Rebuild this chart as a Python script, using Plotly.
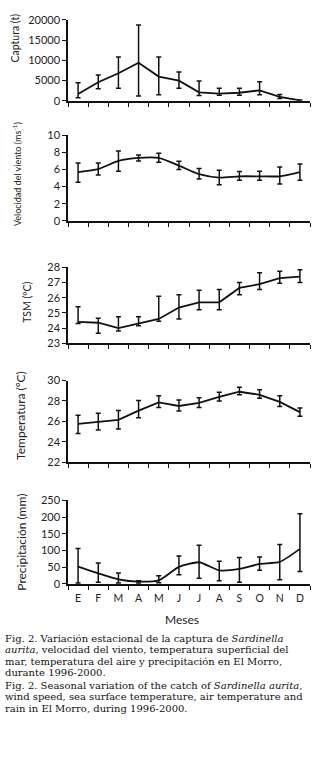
import plotly.graph_objects as go

months = ["E", "F", "M", "A", "M", "J", "J", "A", "S", "O", "N", "D"]

# Captura (t)
catch_mean = [1700, 4600, 6800, 9400, 6000, 5000, 2100, 1800, 2000, 2600, 1000, 100]
catch_hi = [4500, 6400, 10800, 18700, 10800, 7100, 4900, 3100, 3100, 4700, 1600, 200]
catch_lo = [800, 3000, 3100, 1200, 1500, 3100, 1300, 1400, 1400, 1500, 600, 50]

# Velocidad del viento (m s-1)
wind_mean = [5.7, 6.05, 7.0, 7.35, 7.35, 6.45, 5.45, 5.05, 5.2, 5.2, 5.2, 5.7]
wind_hi = [6.75, 6.75, 8.15, 7.7, 7.9, 6.95, 6.1, 5.9, 5.75, 5.8, 6.3, 6.65]
wind_lo = [4.5, 5.35, 5.8, 7.0, 6.85, 6.0, 4.9, 4.2, 4.75, 4.75, 4.3, 4.75]

# TSM (ºC)
sst_mean = [24.4, 24.35, 24.0, 24.3, 24.6, 25.35, 25.7, 25.7, 26.65, 26.9, 27.3, 27.4]
sst_hi = [25.4, 24.65, 24.75, 24.75, 26.1, 26.2, 26.5, 26.55, 27.0, 27.65, 27.75, 27.85]
sst_lo = [24.3, 23.65, 23.8, 24.15, 24.45, 24.6, 25.2, 25.2, 26.2, 26.55, 26.95, 27.0]

# Temperatura del aire (ºC)
air_mean = [25.75, 25.95, 26.15, 27.05, 27.85, 27.5, 27.8, 28.4, 28.9, 28.6, 27.9, 26.9]
air_hi = [26.6, 26.8, 27.05, 28.05, 28.5, 28.1, 28.3, 28.85, 29.35, 29.1, 28.5, 27.3]
air_lo = [24.8, 25.15, 25.25, 26.35, 27.35, 27.0, 27.35, 28.0, 28.6, 28.25, 27.45, 26.5]

# Precipitación (mm)
rain_mean = [52, 32, 14, 7, 11, 51, 65, 41, 45, 60, 66, 105]
rain_hi = [106, 63, 33, 10, 25, 84, 116, 68, 79, 81, 118, 210]
rain_lo = [3, 5, 3, 3, 4, 28, 17, 10, 5, 41, 13, 37]

H = 762.0
W = 325.0
x_dom = [68 / W, 310 / W]

panels = [
    dict(mean=catch_mean, hi=catch_hi, lo=catch_lo, rng=[0, 20000], dt=5000, top=13, bot=95.5, shape="linear"),
    dict(mean=wind_mean, hi=wind_hi, lo=wind_lo, rng=[0, 10], dt=2, top=130.5, bot=217.5, shape="spline"),
    dict(mean=sst_mean, hi=sst_hi, lo=sst_lo, rng=[23, 28], dt=1, top=265, bot=342, shape="linear"),
    dict(mean=air_mean, hi=air_hi, lo=air_lo, rng=[22, 30], dt=2, top=380, bot=463, shape="linear"),
    dict(mean=rain_mean, hi=rain_hi, lo=rain_lo, rng=[0, 250], dt=50, top=502, bot=587, shape="spline"),
]

fig = go.Figure()
xs = list(range(len(months)))
font_family = "Lato"

for i, p in enumerate(panels):
    n = i + 1
    xa = "x" if n == 1 else f"x{n}"
    ya = "y" if n == 1 else f"y{n}"
    up = [h - m for h, m in zip(p["hi"], p["mean"])]
    dn = [m - l for m, l in zip(p["mean"], p["lo"])]
    fig.add_trace(go.Scatter(
        x=xs, y=p["mean"], mode="lines", xaxis=xa, yaxis=ya,
        line=dict(color="#111", width=1.8, shape=p["shape"], smoothing=0.6),
        error_y=dict(type="data", symmetric=False, array=up, arrayminus=dn,
                     color="#111", thickness=1.5, width=2.5),
        showlegend=False, hoverinfo="skip",
    ))
    last = (n == 5)
    xkey = "xaxis" if n == 1 else f"xaxis{n}"
    ykey = "yaxis" if n == 1 else f"yaxis{n}"
    xdict = dict(
        domain=x_dom, range=[-0.5, 11.5], anchor=ya,
        showline=True, linecolor="#111", linewidth=1.5,
        showgrid=False, zeroline=False,
        minor=dict(tickmode="array", tickvals=[k + 0.5 for k in range(-1, 12)],
                   ticks="outside", ticklen=4, tickwidth=1.2, tickcolor="#111", showgrid=False),
    )
    if last:
        xdict.update(tickmode="array", tickvals=xs, ticktext=months,
                     showticklabels=True, ticks="outside", ticklen=4,
                     tickcolor="rgba(0,0,0,0)",
                     tickfont=dict(family=font_family, size=10.5, color="#222"))
    else:
        xdict.update(tickmode="array", tickvals=xs, showticklabels=False, ticks="")
    fig.update_layout(**{
        xkey: xdict,
        ykey: dict(
            domain=[1 - p["bot"] / H, 1 - p["top"] / H], range=p["rng"], anchor=xa,
            showline=True, linecolor="#111", linewidth=1.5,
            showgrid=False, zeroline=False,
            tickmode="linear", tick0=p["rng"][0], dtick=p["dt"], tickformat="d",
            ticks="outside", ticklen=4, tickwidth=1.2, tickcolor="#111",
            tickfont=dict(family=font_family, size=11, color="#222"),
        ),
    })

ann = []
ytitles = [
    ("Captura (t)", 15, 32, 10.5),
    ("Velocidad del viento (ms<sup>-1</sup>)", 17, 170, 9),
    ("TSM (ºC)", 27, 301, 10.5),
    ("Temperatura (ºC)", 21, 416, 12),
    ("Precipitación (mm)", 22, 545, 12),
]
for txt, xp, yp, sz in ytitles:
    ann.append(dict(text=txt, x=xp / W, y=1 - yp / H, xref="paper", yref="paper",
                    textangle=-90, showarrow=False, xanchor="center", yanchor="middle",
                    font=dict(family=font_family, size=sz, color="#222")))

ann.append(dict(text="Meses", x=182 / W, y=1 - 623 / H, xref="paper", yref="paper",
                showarrow=False, xanchor="center", yanchor="middle",
                font=dict(family=font_family, size=12, color="#222")))

caption = [
    ("Fig. 2. Variación estacional de la captura de <i>Sardinella</i>", 642),
    ("<i>aurita</i>, velocidad del viento, temperatura superficial del", 653.8),
    ("mar, temperatura del aire y precipitación en El Morro,", 665.6),
    ("durante 1996-2000.", 677.4),
    ("Fig. 2. Seasonal variation of the catch of <i>Sardinella aurita</i>,", 690),
    ("wind speed, sea surface temperature, air temperature and", 701.8),
    ("rain in El Morro, during 1996-2000.", 713.6),
]
for txt, yp in caption:
    ann.append(dict(text=txt, x=4 / W, y=1 - yp / H, xref="paper", yref="paper",
                    showarrow=False, xanchor="left", yanchor="middle", borderpad=0,
                    font=dict(family="DejaVu Serif", size=10, color="#111")))

fig.update_layout(
    width=325, height=762,
    margin=dict(l=0, r=0, t=0, b=0, pad=0),
    paper_bgcolor="white", plot_bgcolor="white",
    annotations=ann,
)

fig.write_html(
    "out.html",
    config={"displayModeBar": False},
    post_script="document.body.style.margin='0';document.body.style.padding='0';"
                "document.body.style.overflow='hidden';",
)
